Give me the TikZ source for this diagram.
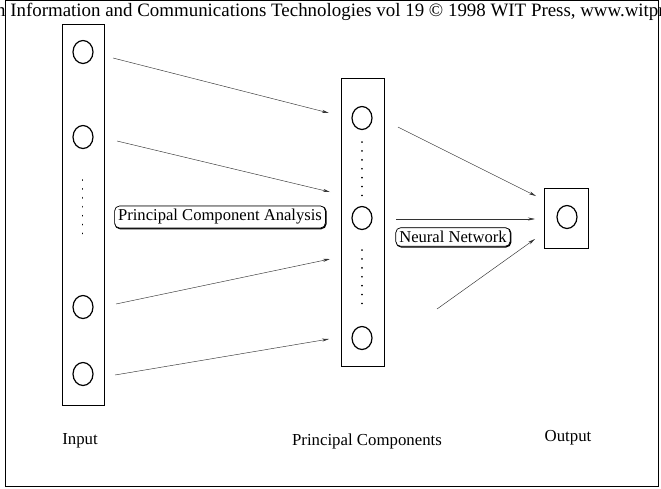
\documentclass[tikz,border=0pt]{standalone}
\usepackage{fontspec}
\setmainfont{Liberation Serif}
\usetikzlibrary{shapes.geometric,arrows.meta}
\begin{document}
\begin{tikzpicture}[x=1pt,y=-1pt,
  column/.style={draw,line width=0.7pt,inner sep=0pt},
  unit/.style={draw,ellipse,line width=1.2pt,minimum width=20pt,minimum height=23pt,inner sep=0pt},
  dotcol/.style={line width=1.7pt,line cap=round,dash pattern=on 0.1pt off 8.8pt},
  link/.style={line width=0.45pt,black!80,-{Stealth[length=7pt,width=3pt]}},
  tag/.style={draw,rounded corners=5pt,line width=0.7pt,inner xsep=3.5pt,inner ysep=3.5pt,font=\fontsize{16.6}{18}\selectfont,
    preaction={draw,line width=1.3pt,transform canvas={xshift=0.6pt,yshift=-0.6pt}}},
  caption/.style={font=\fontsize{16.8}{19}\selectfont}]
\useasboundingbox (0,0) rectangle (661,488);
\clip (0,0) rectangle (661,488);

% page header and frame
\node[anchor=base west,inner sep=0pt,font=\fontsize{18.9}{20}\selectfont] (header) at (-13.5,16.5)
  {on Information and Communications Technologies vol 19 \textcopyright{} 1998 WIT Press, www.witpress.com};
\draw[line width=0.8pt] (5.5,0.8) rectangle (658,486.5);

% input layer
\node[column,minimum width=42pt,minimum height=381pt] (inbox) at (83,214.5) {};
\node[unit] (in1) at (83,52) {};
\node[unit] (in2) at (83,137) {};
\node[unit] (in3) at (83,307) {};
\node[unit] (in4) at (83,374) {};
\draw[dotcol] (82.5,180) -- (82.5,236);

% principal components
\node[column,minimum width=43pt,minimum height=288pt] (pcbox) at (362.5,222) {};
\node[unit] (pc1) at (362,118) {};
\node[unit] (pc2) at (362,218) {};
\node[unit] (pc3) at (362,338) {};
\draw[dotcol] (362,142) -- (362,198);
\draw[dotcol] (362,250) -- (362,306);

% output layer
\node[column,minimum width=44pt,minimum height=60pt] (outbox) at (566,218) {};
\node[unit] (out) at (567,217) {};

% connector end points
\coordinate (a1s) at (113,58);  \coordinate (a1e) at (329,113);
\coordinate (a2s) at (117,141); \coordinate (a2e) at (330,192);
\coordinate (a3s) at (116,304); \coordinate (a3e) at (330,259);
\coordinate (a4s) at (115,375); \coordinate (a4e) at (329,339);
\coordinate (b1s) at (398,127); \coordinate (b1e) at (536,196);
\coordinate (b2s) at (396,219); \coordinate (b2e) at (535,219);
\coordinate (b3s) at (437,309); \coordinate (b3e) at (535,239);

\draw[link] (a1s) -- (a1e);
\draw[link] (a2s) -- (a2e);
\draw[link] (a3s) -- (a3e);
\draw[link] (a4s) -- (a4e);
\draw[link] (b1s) -- (b1e);
\draw[link] (b2s) -- (b2e);
\draw[link] (b3s) -- (b3e);

% stage labels
\node[tag,fill=white] (pca) at (220,217) {Principal Component Analysis};
\node[tag,fill=white] (nn) at (453,237) {Neural Network};

% layer captions
\node[caption] (lin) at (80,441) {Input};
\node[caption] (lpc) at (367,441) {Principal Components};
\node[caption] (lout) at (568,438) {Output};
\end{tikzpicture}
\end{document}
